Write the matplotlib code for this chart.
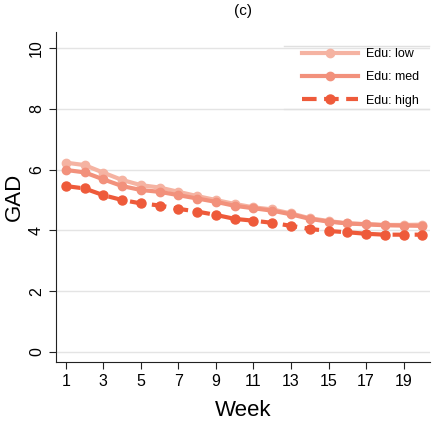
import matplotlib.pyplot as plt
from matplotlib.lines import Line2D

plt.rcParams['font.family'] = ['Liberation Sans', 'DejaVu Sans']

# Data
weeks = list(range(1, 21))
gad_low = [6.23, 6.15, 5.90, 5.66, 5.49, 5.41, 5.27, 5.13, 5.00, 4.87,
           4.76, 4.69, 4.56, 4.40, 4.31, 4.23, 4.21, 4.18, 4.18, 4.19]
gad_med = [5.99, 5.91, 5.68, 5.46, 5.33, 5.27, 5.16, 5.05, 4.94, 4.81,
           4.73, 4.65, 4.53, 4.38, 4.29, 4.23, 4.20, 4.17, 4.16, 4.15]
gad_high = [5.46, 5.38, 5.16, 5.00, 4.89, 4.82, 4.71, 4.62, 4.51, 4.38,
            4.32, 4.25, 4.15, 4.05, 3.98, 3.94, 3.89, 3.86, 3.86, 3.86]
labels = ['Edu: low', 'Edu: med', 'Edu: high']
colors = ['#f5b3a2', '#f2917c', '#ee5a3a']

fig = plt.figure(figsize=(4.4, 4.32), dpi=100)
ax = fig.add_axes([0.127, 0.162, 0.85, 0.764])

ax.plot(weeks, gad_low, '-o', color=colors[0], lw=3, ms=6, label=labels[0])
ax.plot(weeks, gad_med, '-o', color=colors[1], lw=3, ms=6, label=labels[1])
ax.plot(weeks, gad_high, '--o', color=colors[2], lw=3, ms=6.5, dashes=(3.5, 1.8), label=labels[2])

ax.set_xlim(0.47, 20.4)
ax.set_ylim(-0.33, 10.53)
ax.set_xticks(range(1, 20, 2))
ax.set_yticks(range(0, 11, 2))
ax.tick_params(axis='both', labelsize=11.5, length=5, color='#222222')
for lab in ax.get_yticklabels():
    lab.set_rotation(90)
    lab.set_va('center')
ax.yaxis.grid(True, color='#e4e4e4', lw=1)
ax.set_axisbelow(True)
for s in ['top', 'right']:
    ax.spines[s].set_visible(False)
ax.spines['left'].set_color('#222222')
ax.spines['bottom'].set_color('#222222')

ax.set_xlabel('Week', fontsize=16, labelpad=8)
ax.set_ylabel('GAD', fontsize=16, labelpad=3)
ax.set_title('(c)', fontsize=11, pad=12)

leg = ax.legend(loc='upper right', bbox_to_anchor=(1.0, 0.985), frameon=False,
                fontsize=9, handlelength=4.5, handletextpad=0.6, labelspacing=0.9)
# thin rules above and below the legend, as in the original
fig.add_artist(Line2D([0.645, 0.975], [0.893, 0.893], color='#e0e0e0', lw=1))
fig.add_artist(Line2D([0.645, 0.975], [0.748, 0.748], color='#e0e0e0', lw=1))

fig.savefig('out.png', dpi=100)
